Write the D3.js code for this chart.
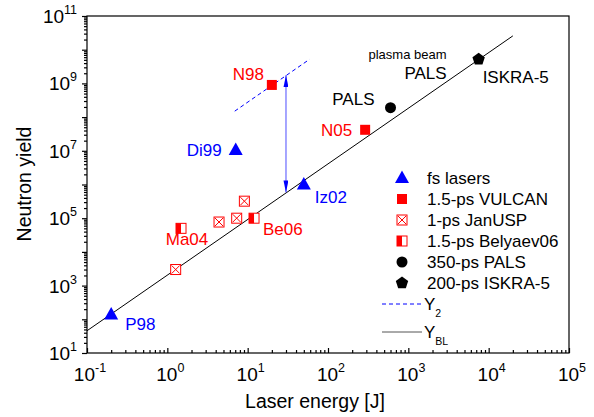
<!DOCTYPE html>
<html>
<head>
<meta charset="utf-8">
<script src="https://cdn.jsdelivr.net/npm/d3@7"></script>
<style>
  body { margin: 0; background: #fff; }
  text { font-family: "Liberation Sans", Arial, sans-serif; }
</style>
</head>
<body>
<svg width="594" height="417"></svg>
<script>
// data
var xTicks = [1e-1, 1e0, 1e1, 1e2, 1e3, 1e4, 1e5];
var yTicks = [1e1, 1e3, 1e5, 1e7, 1e9, 1e11];

var fsE = [0.2, 7.1, 50];
var fsN = [1.4e2, 1.05e7, 1.0e6];
var fsLab = ["P98", "Di99", "Iz02"];

var vulcanE = [20, 290];
var vulcanN = [9e8, 4.2e7];
var vulcanLab = ["N98", "N05"];

var janE = [1.27, 4.4, 7.3, 9.1];
var janN = [3e3, 7.7e4, 1.0e5, 3.2e5];

var belE = [1.48, 12];
var belN = [5e4, 1.0e5];
var belLab = ["Ma04", "Be06"];

var palsE = [600];
var palsN = [1.9e8];

var iskraE = [7500];
var iskraN = [5.2e9];

var yblE = [0.1, 2e4];
var yblN = [45.7, 2.57e10];

var y2E = [6.9, 59];
var y2N = [1.5e8, 5.2e9];

var arrowE = [30, 30];
var arrowN = [5.8e5, 1.75e9];

var legendLab = ["fs lasers", "1.5-ps VULCAN", "1-ps JanUSP", "1.5-ps Belyaev06", "350-ps PALS", "200-ps ISKRA-5"];

var svg = d3.select("svg");
var L = 87, R = 569, T = 16, B = 353;
var x = d3.scaleLog().domain([0.1, 1e5]).range([L, R]);
var y = d3.scaleLog().domain([10, 1e11]).range([B, T]);

var BLUE = "#0000ff", RED = "#ff0000";

// minor tick values
function minors(lo, hi) {
  var out = [];
  for (var p = lo; p < hi; p++)
    for (var k = 2; k <= 9; k++) out.push(k * Math.pow(10, p));
  return out;
}

// frame
svg.append("rect").attr("x", L).attr("y", T).attr("width", R - L).attr("height", B - T)
  .attr("fill", "none").attr("stroke", "#000").attr("stroke-width", 1.2);

// x axis, ticks inward
var gx = svg.append("g").attr("transform", "translate(0," + B + ")");
gx.call(d3.axisBottom(x).tickValues(xTicks).tickSize(-5).tickFormat(""));
gx.append("g").call(d3.axisBottom(x).tickValues(minors(-1, 5)).tickSize(-3).tickFormat(""));
gx.selectAll(".domain").remove();
gx.selectAll("line").attr("stroke", "#000").attr("stroke-width", 1.2);

// y axis, ticks outward
var gy = svg.append("g").attr("transform", "translate(" + L + ",0)");
gy.call(d3.axisLeft(y).tickValues(d3.range(1, 12).map(function (p) { return Math.pow(10, p); })).tickSize(5).tickFormat(""));
gy.append("g").call(d3.axisLeft(y).tickValues(minors(1, 11)).tickSize(3).tickFormat(""));
gy.selectAll(".domain").remove();
gy.selectAll("line").attr("stroke", "#000").attr("stroke-width", 1.2);

function pow10(sel, v) {
  var e = Math.round(Math.log10(v));
  sel.append("tspan").text("10");
  sel.append("tspan").attr("font-size", 12.5).attr("dy", -9).text(e);
}

svg.selectAll(".xl").data(xTicks).enter().append("text")
  .attr("class", "xl")
  .attr("x", function (d) { return x(d) + 3; })
  .attr("y", 381)
  .attr("text-anchor", "middle")
  .attr("font-size", 19)
  .each(function (d) { pow10(d3.select(this), d); });

svg.selectAll(".yl").data(yTicks).enter().append("text")
  .attr("class", "yl")
  .attr("x", 77)
  .attr("y", function (d) { return y(d) + 7; })
  .attr("text-anchor", "end")
  .attr("font-size", 19)
  .each(function (d) { pow10(d3.select(this), d); });

svg.append("text").attr("x", 315).attr("y", 408).attr("text-anchor", "middle")
  .attr("font-size", 19.5).text("Laser energy [J]");
svg.append("text").attr("transform", "translate(31,184) rotate(-90)").attr("text-anchor", "middle")
  .attr("font-size", 19.5).text("Neutron yield");

// lines
var line = d3.line().x(function (d) { return x(d[0]); }).y(function (d) { return y(d[1]); });
svg.append("path").datum(d3.zip(yblE, yblN)).attr("d", line)
  .attr("fill", "none").attr("stroke", "#000").attr("stroke-width", 1);
svg.append("path").datum(d3.zip(y2E, y2N)).attr("d", line)
  .attr("fill", "none").attr("stroke", BLUE).attr("stroke-width", 1).attr("stroke-dasharray", "4,3");

// double arrow
var defs = svg.append("defs");
defs.append("marker").attr("id", "ah").attr("viewBox", "0 0 12 5").attr("refX", 12).attr("refY", 2.5)
  .attr("markerWidth", 12).attr("markerHeight", 5).attr("orient", "auto-start-reverse")
  .attr("markerUnits", "userSpaceOnUse")
  .append("path").attr("d", "M0,0L12,2.5L0,5Z").attr("fill", BLUE);
svg.append("line")
  .attr("x1", x(arrowE[0])).attr("x2", x(arrowE[1]))
  .attr("y1", y(arrowN[0])).attr("y2", y(arrowN[1]))
  .attr("stroke", "#4d4dff").attr("stroke-width", 1)
  .attr("marker-start", "url(#ah)").attr("marker-end", "url(#ah)");

// marker shapes
function tri(g) {
  g.append("path").attr("d", "M0,-7.5L7,5L-7,5Z").attr("fill", BLUE);
}
function sq(g) {
  g.append("rect").attr("x", -5).attr("y", -5).attr("width", 10).attr("height", 10).attr("fill", RED);
}
function crossSq(g) {
  g.append("rect").attr("x", -5).attr("y", -5).attr("width", 10).attr("height", 10)
    .attr("fill", "#fff").attr("stroke", RED).attr("stroke-width", 1);
  g.append("path").attr("d", "M-4,-4L4,4M4,-4L-4,4").attr("stroke", RED).attr("stroke-width", 1);
}
function halfSq(g) {
  g.append("rect").attr("x", -5).attr("y", -5).attr("width", 10).attr("height", 10)
    .attr("fill", "#fff").attr("stroke", RED).attr("stroke-width", 1);
  g.append("rect").attr("x", -5).attr("y", -5).attr("width", 5).attr("height", 10).attr("fill", RED);
}
function circ(g) {
  g.append("circle").attr("r", 5.5).attr("fill", "#000");
}
function pent(g) {
  var pts = d3.range(5).map(function (i) {
    var a = -Math.PI / 2 + i * 2 * Math.PI / 5;
    return [6.5 * Math.cos(a), 6.5 * Math.sin(a)];
  });
  g.append("path").attr("d", "M" + pts.join("L") + "Z").attr("fill", "#000");
}

function plot(E, N, shape) {
  svg.selectAll(null).data(d3.zip(E, N)).enter().append("g")
    .attr("transform", function (d) { return "translate(" + x(d[0]) + "," + y(d[1]) + ")"; })
    .each(function () { shape(d3.select(this)); });
}
plot(janE, janN, crossSq);
plot(belE, belN, halfSq);
plot(vulcanE, vulcanN, sq);
plot(palsE, palsN, circ);
plot(iskraE, iskraN, pent);
plot(fsE, fsN, tri);

// point labels
function label(E, N, txt, dx, dy, anchor, color) {
  svg.append("text").attr("x", x(E) + dx).attr("y", y(N) + dy + 6)
    .attr("text-anchor", anchor).attr("fill", color).attr("font-size", 17).text(txt);
}
label(fsE[0], fsN[0], fsLab[0], 14, 10, "start", BLUE);
label(fsE[1], fsN[1], fsLab[1], -14, 0, "end", BLUE);
label(fsE[2], fsN[2], fsLab[2], 11, 12, "start", BLUE);
label(vulcanE[0], vulcanN[0], vulcanLab[0], -8, -11, "end", RED);
label(vulcanE[1], vulcanN[1], vulcanLab[1], -13, 0, "end", RED);
label(belE[0], belN[0], belLab[0], 6, 11, "middle", RED);
label(belE[1], belN[1], belLab[1], 9, 11, "start", RED);
label(palsE[0], palsN[0], "PALS", -16, -9, "end", "#000");
label(iskraE[0], iskraN[0], "ISKRA-5", 4, 18, "start", "#000");

svg.append("text").attr("x", 425.5).attr("y", 79).attr("text-anchor", "middle")
  .attr("font-size", 17).text("PALS");
svg.append("text").attr("x", 407.5).attr("y", 58.5).attr("text-anchor", "middle")
  .attr("font-size", 13).text("plasma beam");

// legend
var legShapes = [tri, sq, crossSq, halfSq, circ, pent];
var lg = svg.selectAll(".leg").data(legendLab).enter().append("g")
  .attr("transform", function (d, i) { return "translate(402," + (178 + i * 21) + ")"; });
lg.each(function (d, i) { legShapes[i](d3.select(this)); });
lg.append("text").attr("x", 25).attr("y", 6).attr("font-size", 17).text(function (d) { return d; });

svg.append("line").attr("x1", 382).attr("x2", 422).attr("y1", 304).attr("y2", 304)
  .attr("stroke", BLUE).attr("stroke-dasharray", "4,3");
var t2 = svg.append("text").attr("x", 424).attr("y", 310).attr("font-size", 17);
t2.append("tspan").text("Y");
t2.append("tspan").attr("font-size", 10.5).attr("dy", 7).text("2");
svg.append("line").attr("x1", 382).attr("x2", 422).attr("y1", 332).attr("y2", 332)
  .attr("stroke", "#555");
var t3 = svg.append("text").attr("x", 424).attr("y", 338).attr("font-size", 17);
t3.append("tspan").text("Y");
t3.append("tspan").attr("font-size", 10.5).attr("dy", 7).text("BL");
</script>
</body>
</html>
